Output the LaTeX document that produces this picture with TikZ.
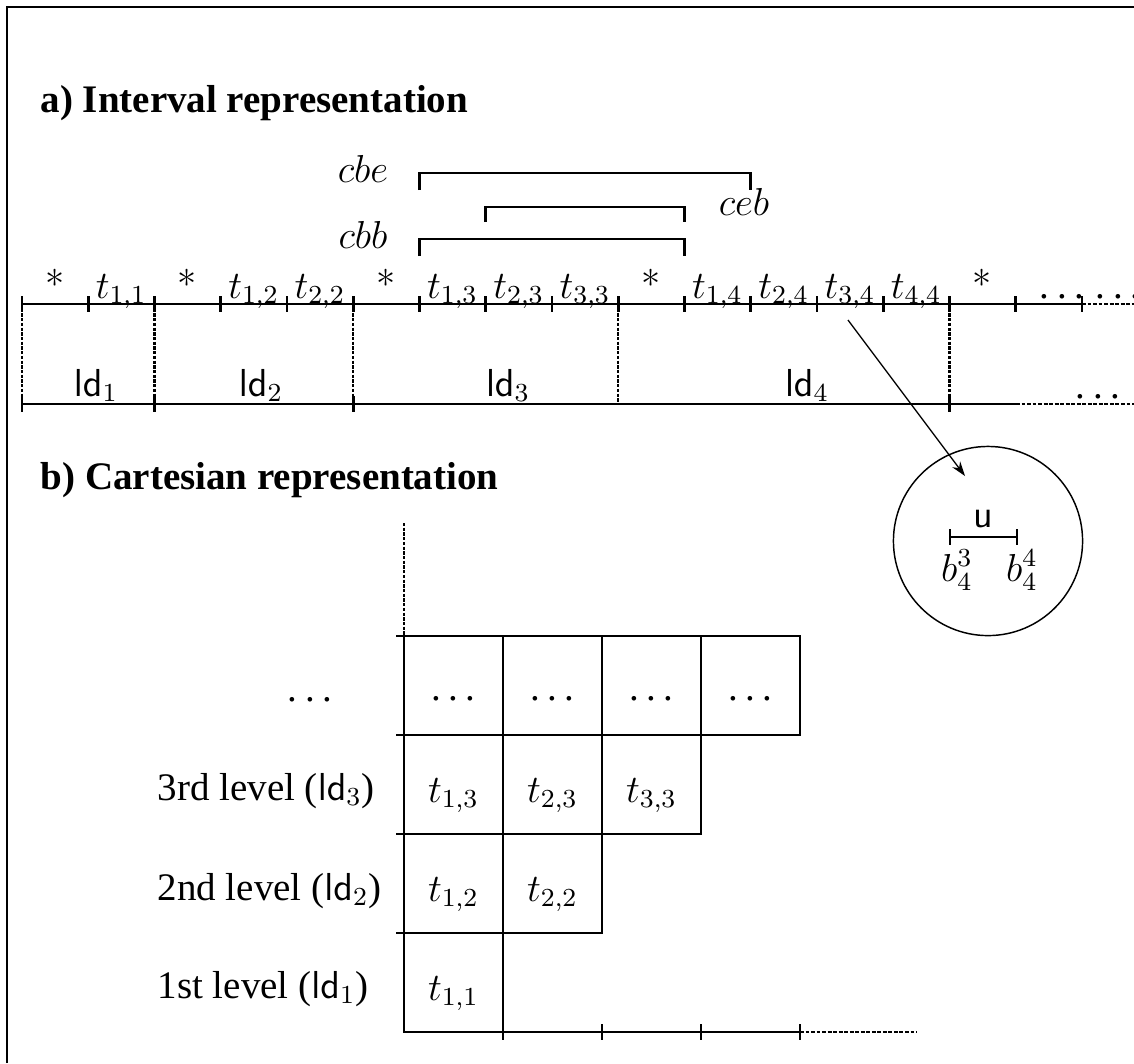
\documentclass[12pt,tikz,border=0pt]{standalone}
\usepackage[no-math]{fontspec}
\setmainfont{Liberation Serif}
\usepackage{tikz}
\usetikzlibrary{calc,arrows.meta,positioning}

\newcommand{\cmstar}{{\fontfamily{lmr}\selectfont *}}
\newcommand{\ldts}{.\kern0.19em.\kern0.19em.}

\begin{document}
\begin{tikzpicture}[
    x=0.3077pt, y=-0.3077pt,
    >={Stealth[length=4.5pt,width=3pt]},
    axis/.style={line width=0.85pt},
    tickmark/.style={line width=0.9pt},
    bound/.style={line width=0.75pt, dash pattern=on 1pt off 0.45pt},
    tail/.style={line width=0.85pt, dash pattern=on 1.2pt off 0.5pt},
    lab/.style={anchor=base, inner sep=0pt},
    cellbox/.style={line width=0.85pt}
]

\useasboundingbox (0,0) rectangle (1134,1063);

%------------------------------------------------
% Rahmen und Titel
%------------------------------------------------
\draw[line width=0.9pt] (7,1063) -- (7,7) -- (1134,7);

\node[lab, anchor=base west, font=\bfseries] (heada) at (40,112) {a) Interval representation};
\node[lab, anchor=base west, font=\bfseries] (headb) at (40,489) {b) Cartesian representation};

%------------------------------------------------
% a) Intervalle
%------------------------------------------------
\draw[axis] (22,304) -- (1082,304);
\draw[tail] (1082,304) -- (1134,304);
\foreach \i in {0,...,16}
    \draw[tickmark] ({22+66.25*\i},296) -- ++(0,16);

% Grenzen der Ebenen
\foreach \i in {0,2,5,9,14}
    \draw[bound] ({22+66.25*\i},304) -- ({22+66.25*\i},404);
\foreach \i in {0,2,5,14}
    \draw[tickmark] ({22+66.25*\i},396) -- ++(0,16);

\draw[axis] (22,404) -- (1016,404);
\draw[tail] (1016,404) -- (1134,404);

% Beschriftung der Zellen
\foreach \i/\lab in {
0/\cmstar, 1/$t_{1,1}$,
2/\cmstar, 3/$t_{1,2}$, 4/$t_{2,2}$,
5/\cmstar, 6/$t_{1,3}$, 7/$t_{2,3}$, 8/$t_{3,3}$,
9/\cmstar, 10/$t_{1,4}$, 11/$t_{2,4}$, 12/$t_{3,4}$, 13/$t_{4,4}$,
14/\cmstar}
{
    \node[lab] (s\i) at ({55+66.25*\i},298) {\lab};
}
\node[lab] (s15) at (1062,298) {\ldts};
\node[lab] (s16) at (1118,298) {\ldts};

% Ebenen
\foreach \k/\x in {1/96, 2/261, 3/508, 4/807}
    \node[lab] (ld\k) at (\x,396) {$\mathsf{ld}_{\k}$};
\node[lab] (ldmore) at (1098,398) {\ldts};

% Klammern
\draw[tickmark] (419.5,190) |- (750.75,173) -- ++(0,17);
\draw[tickmark] (485.75,222) |- (684.5,207) -- ++(0,15);
\draw[tickmark] (419.5,256) |- (684.5,239) -- ++(0,17);
\node[lab] (cbe) at (363,182) {$cbe$};
\node[lab] (cbb) at (363,248) {$cbb$};
\node[lab] (ceb) at (744,215) {$ceb$};

% Lupe
\coordinate (zoomfrom) at (848,320);
\coordinate (zoomto) at (965,476);
\node[circle, draw, line width=0.45pt, minimum size=58.2pt, inner sep=0pt] (lens) at (988,541) {};
\draw[->, line width=0.4pt] (zoomfrom) -- (zoomto);
\draw[tickmark] (950,529) -- ++(0,16) (950,537) -- (1017,537) (1017,529) -- ++(0,16);
\node[lab] (u) at (983,527) {\textsf{u}};
\node[lab] (b43) at (957,581) {$b_4^3$};
\node[lab] (b44) at (1022,581) {$b_4^4$};

%------------------------------------------------
% b) Kartesisch
%------------------------------------------------
\draw[bound] (404,523) -- (404,636);
\draw[cellbox] (396,636) -- (800,636) -- (800,735) -- (396,735);
\draw[cellbox] (396,834) -- (701,834) -- (701,636);
\draw[cellbox] (396,933) -- (602,933) -- (602,636);
\draw[cellbox] (404,636) -- (404,1032) -- (800,1032);
\draw[cellbox] (503,636) -- (503,1040);
\foreach \x in {602,701,800}
    \draw[cellbox] (\x,1024) -- (\x,1040);
\draw[tail] (800,1032) -- (917,1032);

% Inhalt
\foreach \c in {1,...,4}
    \node[lab] (top\c) at ({354.5+99*\c},700) {\ldts};
\foreach \i in {1,2,3}
    \node[lab] (c\i3) at ({354.5+99*\i},802) {$t_{\i,3}$};
\foreach \i in {1,2}
    \node[lab] (c\i2) at ({354.5+99*\i},901) {$t_{\i,2}$};
\node[lab] (c11) at (453.5,1000) {$t_{1,1}$};

% Ebenen links
\node[lab] (levmore) at (310,701) {\ldts};
\node[lab, anchor=base west] (lev3) at (157,800) {3rd level ($\mathsf{ld}_3$)};
\node[lab, anchor=base west] (lev2) at (157,900) {2nd level ($\mathsf{ld}_2$)};
\node[lab, anchor=base west] (lev1) at (157,998) {1st level ($\mathsf{ld}_1$)};

\end{tikzpicture}
\end{document}
